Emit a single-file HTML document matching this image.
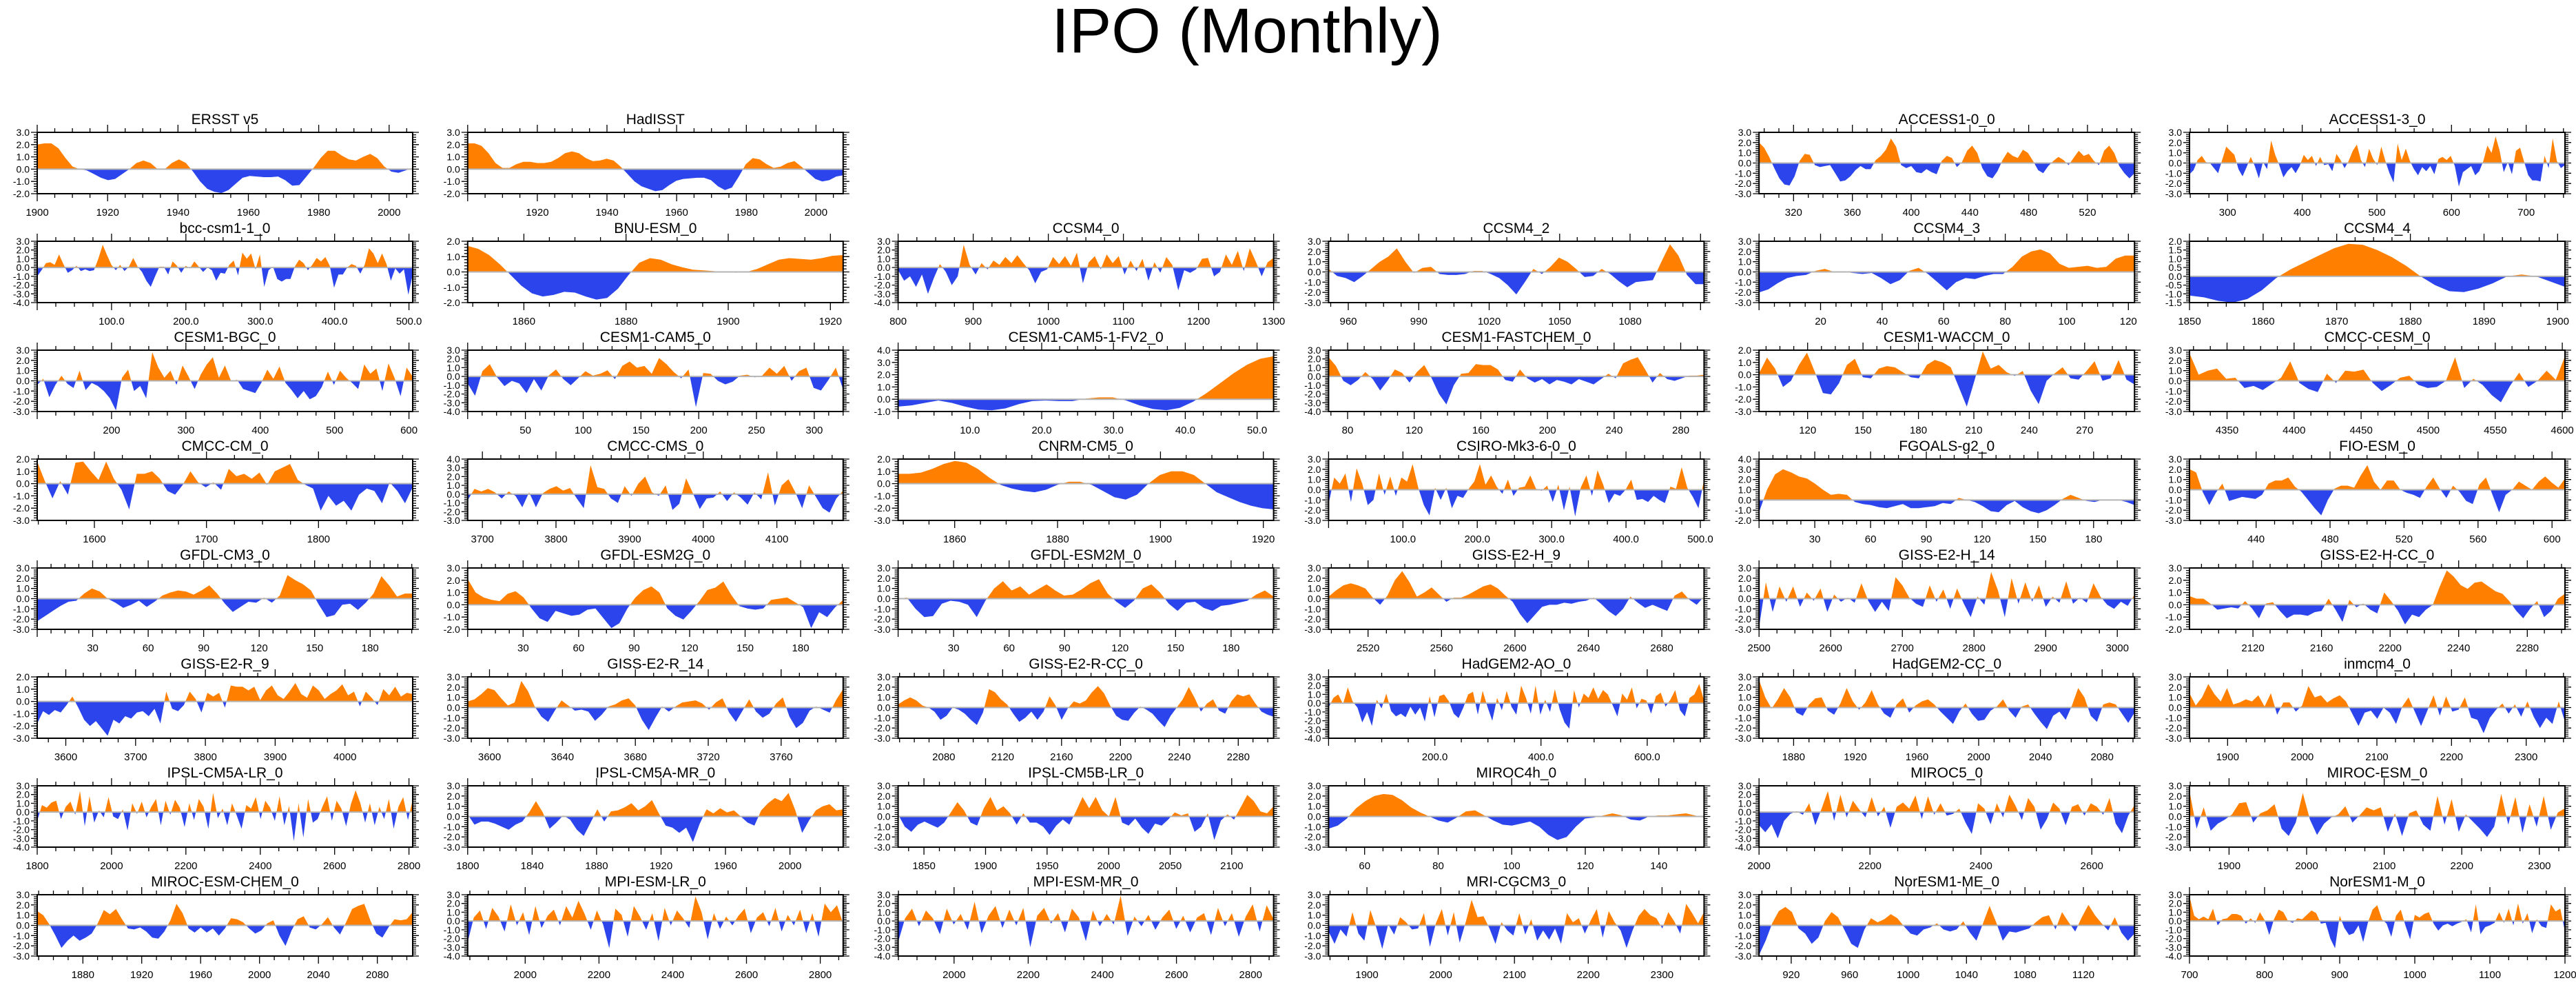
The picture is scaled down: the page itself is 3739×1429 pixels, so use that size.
<!DOCTYPE html>
<html><head><meta charset="utf-8"><title>IPO (Monthly)</title>
<style>
html,body{margin:0;padding:0;background:#fff;}
svg{display:block;font-family:"Liberation Sans",Arial,sans-serif;}
</style></head>
<body>
<svg id="chart" width="3739" height="1429" viewBox="0 0 3739 1429" xmlns="http://www.w3.org/2000/svg">
<rect x="0" y="0" width="3739" height="1429" fill="#fff"/>
<text x="1810" y="76" text-anchor="middle" font-size="92" fill="#000">IPO (Monthly)</text>
</svg>
<script>
const ERSST = [2.0,2.1,2.1,1.7,0.9,0.2,0.0,-0.1,-0.4,-0.7,-0.9,-0.8,-0.4,0.0,0.5,0.7,0.5,0.0,0.0,0.5,0.8,0.5,-0.2,-1.0,-1.6,-1.85,-1.95,-1.7,-1.2,-0.7,-0.55,-0.6,-0.65,-0.65,-0.6,-0.9,-1.35,-1.3,-0.6,0.1,0.9,1.5,1.5,1.1,0.8,0.7,1.0,1.25,0.9,0.2,-0.2,-0.3,-0.1,0.1];
const HADISST = [2.1,2.1,1.9,1.3,0.5,0.1,0.1,0.4,0.6,0.6,0.5,0.5,0.6,0.9,1.3,1.45,1.3,0.9,0.65,0.7,0.85,0.7,0.2,-0.4,-1.0,-1.4,-1.6,-1.8,-1.7,-1.3,-0.95,-0.8,-0.75,-0.7,-0.7,-0.9,-1.4,-1.7,-1.5,-0.6,0.4,0.9,0.8,0.4,0.1,0.2,0.5,0.65,0.2,-0.3,-0.8,-1.0,-0.9,-0.6,-0.5];
const ACCESS10 = [2.0,1.5,0.6,-0.5,-1.5,-2.1,-2.2,-1.3,0.2,0.9,0.8,-0.2,-0.4,-0.3,-0.2,-1.0,-1.8,-1.7,-1.3,-0.7,-0.3,-0.6,-0.6,0.3,0.7,1.3,2.4,1.6,-0.2,-0.5,-0.3,-0.9,-1.0,-0.6,-0.9,-1.1,0.2,0.7,0.5,-0.4,0.1,1.2,1.7,1.0,-0.5,-1.3,-1.5,-0.8,0.3,1.1,0.7,0.5,1.3,1.0,0.2,-0.7,-1.0,-0.3,0.2,0.6,0.3,-0.2,0.5,1.2,0.7,0.9,0.2,-0.2,1.2,1.7,1.0,-0.3,-1.0,-1.5,-1.0];
const ACCESS13 = [-1.1,-0.7,0.3,0.7,0.1,0,-0.5,-1.0,0.3,1.6,1.2,0.8,-0.6,-1.3,-0.4,0.6,-0.3,-1.5,0.1,-0.6,2.2,0.8,-0.2,-1.4,-0.8,-0.4,-1.0,-0.3,0.8,0.3,0.7,-0.3,0.6,-0.2,-0.1,-0.8,0.9,0.3,-0.5,0.2,1.2,1.8,0.3,-0.4,1.4,0.4,-0.2,1.6,0.2,-1.0,-1.9,1.9,0.3,1.4,0.2,-0.6,-1.2,-0.4,-0.8,-0.3,-1.1,0.4,0.6,0.3,0.7,-0.3,-2.3,-0.9,-0.6,-0.3,-1.2,-0.8,0.2,1.7,1.0,2.6,1.2,-0.9,0.1,-1.1,1.2,1.5,0.1,-1.2,-1.7,-1.7,-1.8,0.7,-0.5,2.4,0.2,-0.5,-0.2];
const BCC = [-1.0,-0.3,0.5,0.6,0.3,1.5,0.4,-0.6,-0.3,0.2,-0.4,-0.2,-0.4,-0.3,1.0,2.6,1.4,0.3,-0.3,0.3,-0.4,0.1,1.1,0.1,-0.5,-1.5,-2.2,-1.0,0.1,0.1,-0.8,0.7,0.2,-0.6,0.2,-0.1,0.7,0.1,-0.5,0.0,-0.3,-1.5,-0.6,-0.7,0.3,0.8,-0.9,1.7,1.0,1.6,-0.2,1.5,-2.2,-0.3,0.1,-1.3,-1.6,-1.3,-1.3,0.1,0.9,0.5,-0.3,0.3,1.1,0.7,1.2,0.2,-2.3,-0.8,-0.8,0.0,0.4,0.2,-0.7,0.3,2.2,1.6,0.5,1.6,0.4,-1.5,-0.1,-0.7,-0.2,-3.1,-0.8];
const BNU = [1.7,1.5,1.1,0.5,-0.2,-0.9,-1.4,-1.6,-1.5,-1.3,-1.35,-1.6,-1.8,-1.7,-1.1,-0.2,0.6,0.9,0.8,0.5,0.3,0.15,0.1,0.05,0,-0.05,0.0,0.2,0.5,0.8,0.9,0.85,0.8,0.9,1.05,1.1];
const CCSM40 = [-0.3,-1.5,-1.0,-2.2,-0.8,-3.0,-1.2,0.4,-0.5,-2.0,-1.0,2.6,0.3,-0.8,0.5,-0.2,0.8,0.3,1.2,0.5,1.4,0.5,-0.3,-1.8,-0.5,-0.2,1.2,0.4,1.3,0.2,1.7,-1.8,0.6,1.3,-0.2,1.5,0.5,1.3,-0.8,0.8,-0.4,1.0,-1.5,0.6,-0.6,1.2,0.3,-2.6,-0.3,-0.6,-0.2,1.0,1.1,-1.0,-0.5,1.5,0.3,1.9,-0.4,2.2,0.7,-1.0,0.6,1.1];
const CCSM42 = [0.3,-0.4,-0.6,-1.0,-0.4,0.3,1.0,1.5,2.3,1.0,-0.1,0.4,0.5,-0.2,-0.3,-0.3,-0.2,0.1,0.1,-0.2,-0.6,-1.3,-2.2,-1.0,0.3,-0.2,0.5,1.4,1.0,0.3,-0.5,-0.4,0.3,-0.2,-0.9,-1.5,-1.0,-0.9,-0.8,1.0,2.7,1.6,-0.3,-1.2,-1.2];
const CCSM43 = [-2.0,-1.7,-1.1,-0.6,-0.4,-0.3,0.1,0.3,0.0,0.0,-0.1,-0.2,-0.1,-0.6,-1.2,-0.8,0.1,0.4,-0.2,-1.0,-1.8,-1.0,-0.6,-0.7,-0.4,-0.2,-0.2,0.5,1.5,2.0,2.2,1.8,0.8,0.4,0.5,0.6,0.4,0.5,1.3,1.6,1.6];
const CCSM44 = [-1.1,-1.2,-1.4,-1.5,-1.3,-0.8,-0.1,0.4,0.8,1.2,1.6,1.85,1.8,1.5,1.1,0.6,0.0,-0.5,-0.85,-0.9,-0.7,-0.4,0.0,0.1,0.0,-0.3,-0.6];
const CESMBGC = [-0.4,0.2,-1.6,-0.4,0.5,-0.3,-0.7,1.0,-0.9,-0.2,-0.5,-1.0,-1.7,-2.9,0.3,1.1,-1.0,-0.5,-1.7,2.8,1.3,0.3,1.0,-0.4,1.5,0.4,-0.8,0.6,1.6,2.3,0.3,1.5,0.0,0.1,-0.8,-1.0,-1.2,-0.2,1.1,0.2,1.4,-0.2,-0.9,-1.7,-1.0,-1.8,-1.5,-0.6,0.9,-0.4,1.0,0.3,-0.2,-0.8,1.6,0.7,1.2,-1.0,1.7,0.3,-1.5,1.3,0.4];
const CESMCAM5 = [-0.8,-2.2,0.6,1.4,-0.1,-1.1,-0.5,-0.8,-1.9,-0.3,-1.6,0.1,0.8,-0.3,-1.0,-0.2,0.6,0.1,0.3,0.7,-0.3,1.2,1.7,1.0,1.2,0.3,2.1,1.4,0.5,-0.2,0.8,-3.5,0.4,0.3,-0.5,-0.9,-0.6,0.1,0.2,-0.1,0.1,1.0,0.3,1.2,-0.5,0.6,1.0,-1.3,-1.6,-0.4,1.0,-1.5];
const CESMFV2 = [-0.6,-0.5,-0.3,-0.1,-0.3,-0.6,-0.85,-0.9,-0.75,-0.4,-0.15,-0.1,-0.15,-0.15,0.05,0.15,0.15,-0.1,-0.5,-0.8,-0.9,-0.7,-0.2,0.5,1.3,2.1,2.8,3.3,3.5];
const CESMFAST = [2.2,1.2,-0.5,-1.0,-0.4,0.5,-0.3,-1.6,-0.5,0.8,0.4,-0.7,0.5,1.3,-0.2,-2.0,-3.2,-1.0,0.3,0.4,1.4,1.3,1.3,0.8,-0.4,-0.6,0.8,-0.2,-0.7,-0.3,-0.9,-0.4,-0.6,-0.9,-0.3,-0.6,-0.9,-0.3,0.3,-0.2,1.5,1.9,2.2,0.8,-0.7,0.4,-0.3,-0.5,-0.2,0.1,0.1,0.2];
const CESMWACCM = [0.1,1.4,0.5,-1.0,-0.5,0.8,1.8,0.2,-1.5,-1.6,-0.7,0.8,1.3,-0.2,-0.3,0.5,0.7,0.6,0.2,-0.2,-0.3,0.8,1.2,1.0,0.6,-1.0,-2.6,-0.4,1.9,0.5,0.8,0.2,-0.1,0.3,-1.3,-2.4,-0.5,0.1,0.6,-0.3,-0.4,0.3,1.1,-0.5,-0.3,1.2,-0.4,-0.8];
const CMCCCESM = [2.7,0.6,1.0,1.2,0.2,0.3,-0.7,-0.5,-0.9,-0.3,0.3,1.9,-0.2,-0.8,-1.1,0.7,-0.2,1.0,0.9,1.1,-0.2,-1.0,-0.4,0.3,0.5,-0.4,-0.7,-0.6,0.0,2.3,-0.7,0.2,-0.4,-1.4,-2.1,-0.5,0.8,-0.6,0.0,1.0,0.1,2.4];
const CMCCCM = [1.8,0.2,-1.2,0.2,-0.9,1.7,1.8,1.0,0.3,1.8,0.4,-0.5,-2.1,0.8,0.8,1.0,0.4,-0.6,-0.9,-0.1,1.0,0.1,-0.3,0.1,-0.5,1.2,0.6,0.8,0.4,0.9,-0.1,1.0,1.3,1.6,0.3,-0.1,-0.4,-2.2,-1.0,-1.8,-1.4,-2.2,-0.9,-0.4,-0.6,-1.6,0.1,-0.6,-1.6,-0.3];
const CMCCCMS = [-0.7,0.6,0.3,0.6,0.2,-0.5,0.3,-0.2,-1.5,0.2,-1.5,0.1,0.6,0.9,0.4,0.7,-0.5,-1.6,3.3,0.8,0.6,-0.5,-1.0,0.9,-0.2,1.2,2.0,0.2,-0.2,1.0,-1.8,-1.1,1.8,0.1,-1.7,-0.5,-0.4,0.3,-0.8,0.2,-0.4,-1.2,0.2,-0.6,2.5,-1.3,1.0,1.7,0.2,-1.6,1.0,-0.3,-1.6,-2.1,-0.5,0.4];
const CNRM = [0.8,0.8,0.9,1.2,1.6,1.85,1.7,1.2,0.5,-0.1,-0.4,-0.6,-0.7,-0.5,-0.1,0.15,0.15,-0.1,-0.6,-1.1,-1.3,-0.9,0.0,0.7,1.0,1.0,0.7,0.0,-0.7,-1.1,-1.5,-1.8,-2.0,-2.1];
const CSIRO = [-1.4,1.2,0.6,1.6,-1.2,2.1,0.6,-1.5,-1.0,1.6,-0.5,1.3,-0.6,1.2,0.8,2.5,0.2,-1.5,-2.5,0.2,-1.0,0.2,-1.8,-0.6,-0.8,0.1,0.8,2.5,0.5,1.4,0.3,-0.4,1.0,-0.6,0.2,0.3,1.4,0.1,-0.1,0.4,-1.2,0.5,-2.0,0.3,-2.6,0.2,1.4,-0.6,1.9,0.5,-1.3,-0.4,-0.6,0.0,1.0,-1.0,-0.9,-1.2,-0.6,-1.0,-1.3,0.3,0.1,2.2,0.2,-0.7,-1.8,1.0];
const FGOALS = [-1.2,1.0,2.5,3.0,2.7,2.3,2.1,1.6,1.0,0.5,0.6,0.5,-0.2,-0.4,-0.5,-0.7,-0.8,-0.6,-0.4,-0.8,-0.8,-0.7,-0.6,-0.3,-0.4,0.2,0.0,-0.2,-0.6,-1.1,-1.2,-0.5,-0.1,-0.7,-1.1,-1.3,-1.0,-0.5,0.1,0.5,0.2,-0.1,-0.2,0.0,-0.05,0.0,-0.2,-0.5];
const FIO = [2.0,1.7,-0.2,-1.5,-0.3,0.6,-1.1,-0.9,-0.7,-0.8,-0.9,-0.5,0.6,0.9,0.9,1.2,0.3,-0.2,-1.0,-1.8,-2.5,-1.0,0.1,0.4,0.4,0.2,1.4,2.4,0.8,0.0,0.9,0.9,0.0,-0.3,-0.5,-0.8,0.3,1.2,0.1,-0.8,0.4,-0.2,-1.1,-1.4,0.5,1.2,-0.5,-2.2,-0.5,0.0,0.8,0.4,0.0,0.8,1.3,0.7,0.2,1.1];
const GFDLCM3 = [-2.2,-1.7,-1.2,-0.7,-0.3,-0.2,0.5,1.0,0.7,0.0,-0.4,-0.9,-0.6,-0.2,-0.8,-0.3,0.3,0.6,0.8,0.7,0.4,0.8,1.3,0.5,-0.5,-1.3,-0.8,-0.3,-0.4,0.1,-0.4,0.3,2.3,1.8,1.4,0.8,-0.6,-1.8,-1.6,-0.6,-0.5,-1.1,-0.4,0.5,2.2,1.3,0.2,0.5,0.5];
const GFDLESM2G = [2.1,1.0,0.6,0.4,0.3,0.9,1.1,0.6,-0.3,-1.1,-1.4,-0.5,-0.7,-0.9,-0.8,-0.4,-0.3,-1.1,-1.9,-1.5,-0.3,0.6,1.2,1.5,1.0,-0.3,-0.9,-1.2,-0.5,0.3,1.2,1.4,1.9,0.8,-0.1,-0.3,-0.4,-0.3,0.4,0.5,0.6,0.2,-0.2,-1.9,-0.6,-1.0,-0.2,0.4];
const GFDLESM2M = [0.0,0.1,-1.0,-1.8,-1.7,-0.5,-0.2,-0.3,-0.6,-1.8,-0.2,1.0,1.7,0.8,1.2,0.4,0.9,1.4,0.8,0.3,0.4,0.9,1.5,1.9,0.5,-0.3,-0.9,-0.2,1.0,1.4,0.6,-0.5,-1.2,-0.4,-0.3,-0.9,-1.2,-0.7,-0.6,-0.4,-0.2,0.4,0.8,0.2];
const GISSEH9 = [0.2,0.8,1.3,1.5,1.3,1.0,0.1,-0.6,0.3,1.8,2.7,1.6,0.2,0.6,1.1,0.4,-0.3,0.1,0.1,0.4,0.8,1.2,1.4,1.0,0.3,-0.3,-1.5,-2.4,-1.6,-0.8,-0.6,-0.6,-0.4,-0.5,-0.3,-0.2,0.1,-0.5,-1.2,-1.7,-1.0,0.2,-0.4,-0.9,-0.6,-0.9,-1.2,0.3,0.7,-0.1,-0.6,0.2];
const GISSEH14 = [-2.8,1.6,-1.3,1.2,-0.3,1.2,-0.8,0.6,-0.2,1.0,-1.3,0.4,-0.3,0.1,-0.4,1.5,-0.2,-1.3,-0.3,-1.2,2.1,1.3,0.1,-0.5,-0.8,1.3,-0.3,0.9,-1.0,1.0,-0.5,-1.8,0.2,-0.6,2.6,0.8,-1.8,2.0,-0.5,1.6,-0.3,1.3,-0.8,0.2,-0.4,1.7,-0.5,0.1,-0.4,1.5,0.2,-0.6,-1.0,-0.3,-0.7,0.4];
const GISSEHCC = [0.7,0.5,0.5,0.1,-0.4,-0.3,-0.2,-0.3,0.3,-0.3,-1.1,0.1,0.2,-0.5,-1.1,-0.8,-0.8,-0.9,-0.6,-0.5,0.5,-0.4,-1.4,0.4,-0.2,0.1,-0.4,-0.7,1.0,0.3,-0.5,-1.6,-0.8,-1.0,-0.4,0.0,1.5,2.8,2.3,1.6,1.3,1.8,1.9,1.5,1.1,0.9,0.3,-0.5,-1.1,-0.3,0.3,-1.0,-0.5,0.5,0.9];
const GISSER9 = [-1.8,-0.8,-1.1,-0.7,-0.9,-0.3,0.4,-0.5,-1.5,-2.0,-1.6,-2.2,-2.8,-1.5,-1.8,-1.2,-1.4,-0.9,-0.8,-1.2,-0.6,-1.8,0.8,-0.6,-0.8,-0.3,0.8,0.2,-0.9,0.7,0.4,0.7,-0.5,1.3,1.2,1.2,0.9,1.2,0.1,0.9,1.3,0.5,0.2,0.8,1.5,0.6,0.3,1.3,0.9,0.2,0.6,0.9,1.4,0.5,0.8,-0.4,0.8,0.3,-0.3,1.0,0.5,1.2,0.4,0.7,0.6];
const GISSER14 = [0.6,0.8,1.3,1.9,1.7,0.9,0.2,0.5,2.6,1.6,0.1,-0.9,-1.4,-0.3,0.7,0.2,-0.3,-0.2,-0.4,-1.3,-0.7,0.1,0.3,0.7,0.9,0.2,-1.2,-2.2,-1.0,0.1,-0.4,0.1,0.5,0.6,0.7,0.4,-0.2,0.5,0.9,-0.5,-1.4,-0.3,0.8,-0.4,-1.0,-0.6,0.4,1.0,-0.9,-2.0,-1.5,-0.3,0.1,-0.2,-0.5,0.8,1.8];
const GISSERCC = [0.3,0.7,1.0,0.7,0.2,0.0,-0.4,-1.2,-0.8,0.0,-0.2,-0.6,-1.2,-1.7,-0.5,1.8,1.5,0.8,0.3,-0.6,-1.4,-1.0,-0.4,-1.2,-0.4,1.1,0.2,-1.2,-0.1,0.6,0.4,0.7,1.5,2.1,1.4,0.2,-0.8,-1.2,-1.3,-0.5,0.1,-0.2,-0.6,-1.3,-1.9,-0.8,0.0,0.8,2.0,0.9,-0.4,0.4,0.8,-0.3,-0.6,0.6,1.3,1.1,1.3,0.4,-0.4,-0.7,-0.9];
const HADGEMAO = [-0.5,0.6,1.0,-0.1,1.8,0.2,-0.5,-2.2,-1.0,-2.6,0.4,-0.6,1.1,-0.9,-1.5,-1.2,-1.6,-0.4,-1.3,-0.5,-2.1,0.8,-1.6,0.8,1.0,0.2,-1.2,-1.7,-0.5,1.0,1.3,-1.3,1.4,-0.4,-2.0,0.6,-0.8,1.4,-0.4,-1.3,2.0,0.6,-1.2,2.0,-1.3,0.4,-1.0,1.6,-0.7,-2.2,-2.9,1.5,-0.5,1.1,0.6,1.8,0.5,1.5,1.0,-0.2,-1.5,1.1,0.4,1.8,-0.6,0.5,0.3,-1.2,0.8,1.2,-0.4,0.4,1.5,-0.8,-1.5,0.6,1.0,2.2,0.3];
const HADGEMCC = [2.7,1.0,-0.1,0.8,1.9,1.0,-0.5,-0.8,0.3,0.9,1.0,-0.3,-0.7,0.4,1.9,0.6,-0.2,0.5,1.7,0.3,-0.6,-1.0,0.3,0.9,-0.5,0.2,0.6,0.8,0.3,-0.4,-1.0,-1.6,-0.4,0.4,-0.6,-1.3,-1.2,-0.3,0.1,0.8,-0.3,-1.0,0.1,0.3,-0.6,-1.4,-2.1,-0.8,-0.4,-1.2,0.2,1.9,1.0,-0.8,-1.4,0.3,0.5,0.3,-0.6,-1.5,-0.5];
const INMCM4 = [1.4,0.2,1.0,2.3,1.3,0.6,1.9,0.3,0.5,0.8,0.6,1.2,0.1,1.4,-0.7,0.5,0.5,-0.4,0.2,2.1,1.0,1.2,0.5,0.9,1.2,0.6,-0.6,-1.8,-0.5,-0.3,-1.1,0.0,-0.5,-1.6,0.1,1.0,-0.4,-1.8,-0.3,1.2,-0.8,1.1,-0.4,-0.2,1.0,-1.0,-1.2,-2.5,-1.0,-0.2,0.4,-0.6,0.3,-0.9,0.6,-0.9,-2.0,-1.0,-1.6,0.6,-1.4];
const IPSLALR = [-1.0,0.8,0.5,1.1,1.3,-0.8,0.6,1.2,-0.3,2.4,-1.6,1.8,-1.2,0.2,-0.6,1.7,-0.5,-0.8,0.3,-2.1,1.0,-0.2,1.2,-0.6,0.6,1.5,-1.5,1.3,-0.3,1.4,0.5,-1.7,1.0,-0.9,1.5,0.6,-1.9,2.2,-0.7,0.4,-1.5,1.0,-0.4,-1.9,0.8,0.4,1.7,-0.8,1.3,0.5,-1.0,1.8,-1.5,0.7,-3.3,1.0,-2.9,1.5,-1.2,-0.8,0.6,1.8,-1.0,1.3,0.4,-1.6,0.9,2.5,1.0,-1.2,1.0,-1.5,0.6,-0.8,1.5,-1.9,0.6,1.7,-0.9,1.4];
const IPSLAMR = [0.2,-0.8,-0.5,-0.5,-0.7,-1.0,-1.3,-0.8,-0.5,0.4,1.5,0.4,-1.2,-0.6,0.1,-0.3,-1.3,-1.9,-0.6,0.7,-0.5,0.5,0.6,0.9,1.3,0.6,1.0,1.6,0.3,-0.9,-1.1,-1.6,-1.1,-2.5,-0.7,0.7,0.3,0.8,0.4,0.6,0.0,-0.6,-0.9,0.6,1.3,1.8,1.5,2.3,0.6,-1.6,-0.4,0.6,1.0,1.2,0.6,0.7];
const IPSLBLR = [0.2,-1.0,-1.5,-0.8,-0.5,-0.8,-1.1,-0.6,0.4,1.4,0.6,-0.6,-0.9,0.8,1.9,0.6,1.0,0.3,-0.8,0.3,-0.6,-0.6,-1.0,-1.8,-0.9,-0.3,-0.8,0.5,1.9,0.8,1.9,0.6,0.0,1.9,-0.6,-0.9,-0.2,-1.1,-1.7,-0.7,-0.9,-0.3,0.4,0.1,0.3,-1.5,-1.0,0.3,-2.3,-0.4,0.2,-0.3,0.9,2.1,1.5,0.5,0.3,1.0];
const MIROC4H = [-1.2,-0.9,-0.2,0.8,1.5,2.0,2.2,2.1,1.6,0.9,0.4,0.0,-0.4,-0.6,-0.1,0.5,0.6,0.1,-0.4,-0.8,-0.9,-0.7,-0.5,-1.0,-1.8,-2.3,-2.0,-1.0,-0.2,-0.1,0.1,0.3,0.1,-0.3,-0.4,0.0,0.1,0.1,0.2,0.3,0.1,-0.1];
const MIROC5 = [-1.5,-2.3,-1.4,-3.0,-1.0,-0.2,0.1,-0.3,1.0,-1.5,0.4,2.4,-1.0,2.0,-0.6,1.3,0.3,-0.6,1.7,-0.5,0.6,-1.8,0.6,1.1,0.4,1.9,-0.8,1.8,-0.3,1.0,-0.4,-0.2,0.4,-1.2,-2.5,1.0,0.4,-1.4,1.0,-0.6,2.0,0.7,-0.9,1.6,0.6,-2.0,-0.8,1.1,0.4,-1.5,0.6,0.9,-0.4,1.0,0.6,-0.3,1.6,-1.3,-2.4,-0.4,0.8];
const MIROCESM = [2.5,-1.2,0.9,-1.4,-0.7,-0.3,0.2,1.3,1.4,-0.6,0.3,0.6,1.2,-1.2,-1.9,-0.6,2.3,-0.3,-1.8,-0.7,-0.1,0.2,1.0,-0.6,0.1,0.9,0.6,0.9,-1.5,0.3,-1.9,0.3,0.6,-0.8,-1.4,2.0,-0.8,1.7,-1.5,0.2,-0.5,-1.2,-2.0,-1.0,2.2,-0.8,1.9,-1.6,1.2,-1.0,2.0,-1.3,0.4,0.8];
const MIROCCHEM = [1.4,1.0,0.1,-1.0,-2.2,-1.5,-1.0,-1.5,-1.2,-0.8,0.2,1.5,1.1,1.6,0.6,-0.3,-0.4,-0.2,-0.6,-1.2,-1.3,-0.6,0.5,2.1,1.2,-0.3,-0.7,-0.2,-0.7,-0.3,-1.0,-0.3,0.7,0.6,0.3,-0.3,-0.8,-0.5,0.2,0.5,-1.0,-2.0,-0.5,0.6,0.9,-0.2,-0.4,0.1,0.8,-0.2,-0.9,0.3,1.6,1.9,2.1,0.5,-0.8,-1.2,-0.2,0.6,0.5,0.6,1.3];
const MPILR = [-2.4,0.4,1.2,-0.9,1.5,0.5,-1.2,1.9,-0.5,1.0,-1.6,1.7,-0.8,0.6,1.3,-0.5,1.7,0.4,2.3,0.8,-1.0,1.2,-0.4,-3.1,1.4,0.7,-1.8,1.7,0.5,-1.0,0.9,-2.3,1.5,-0.5,1.2,0.3,-0.8,2.8,1.0,-2.1,0.9,-0.9,0.5,-0.5,0.6,1.4,-1.4,0.4,1.0,-0.6,1.5,-1.2,0.7,-0.5,1.3,-1.4,0.9,-1.8,2.0,1.0,1.8,-0.3];
const MPIMR = [-2.4,0.3,1.4,-0.6,1.2,0.3,-1.5,1.4,-0.4,0.8,-1.0,2.2,-1.4,0.6,1.7,-0.8,1.3,-0.5,1.5,-3.0,0.6,1.5,-0.3,0.9,-1.3,1.4,0.4,-2.3,1.2,-0.6,0.8,-0.4,2.9,-1.7,0.5,-0.6,0.7,-1.0,0.4,1.3,-0.9,0.6,-1.3,0.4,0.9,-1.6,1.5,-0.6,0.9,-1.8,0.5,1.9,-1.2,1.8,0.2];
const MRI = [-0.6,-1.8,-0.4,-1.1,1.3,-0.8,-1.5,1.5,-0.2,-2.3,0.1,-0.9,0.8,0.3,-0.4,-0.3,1.2,-2.1,0.2,1.6,-1.0,1.3,-1.7,0.3,2.5,0.8,0.9,-0.3,-1.8,0.3,-0.5,-1.0,1.2,-0.9,0.6,-1.5,-0.5,-1.4,-0.3,-1.8,1.2,0.3,0.7,-0.8,0.5,1.6,-1.2,1.4,0.3,-0.5,-2.2,-0.5,0.9,1.6,1.0,0.7,-0.3,1.3,0.4,-0.8,2.1,1.2,0.2,1.3];
const NORME = [-2.9,-1.5,0.2,1.4,1.8,1.3,-0.3,-0.8,-1.8,-1.2,0.4,1.3,0.8,-0.5,-1.8,-2.2,-0.4,0.7,0.3,0.6,1.1,0.7,-0.1,-0.8,-1.0,-0.4,-0.2,0.2,-0.4,-0.6,-0.4,0.4,-0.7,-1.5,0.2,1.9,0.3,-1.5,-0.6,-0.7,-0.5,-0.3,0.3,0.8,1.0,-0.4,1.3,0.3,-0.6,0.8,2.0,1.0,0.2,-0.5,0.8,-0.7,-1.5,-0.8];
const NORM = [2.8,0.6,0.2,0.5,0.2,1.4,-0.5,0.2,0.3,0.8,0.8,0.6,-0.3,0.3,-0.2,1.0,0.1,-1.6,0.2,1.3,1.0,0.0,-0.2,0.3,0.2,0.7,1.2,0.9,-0.3,-0.2,-2.0,-3.1,0.6,-0.8,-1.6,-1.4,-0.5,-2.4,-0.2,1.3,1.8,0.2,-0.3,-1.8,0.6,1.3,-0.5,-2.1,0.7,0.4,0.8,1.0,-0.3,-1.1,-0.5,-0.3,-0.6,-0.3,-0.1,0.2,-1.3,1.9,-1.5,-0.7,-0.5,-0.2,1.0,-0.2,1.4,-0.5,2.0,-0.3,0.9,-1.4,0.2,-0.6,-0.8,1.9,1.1,1.4,-1.2];

const PANELS = [
 ["ERSST v5",0,0,1900,2006.7,-2,3,[1900,1920,1940,1960,1980,2000],0,ERSST],
 ["HadISST",1,0,1900,2007.8,-2,3,[1920,1940,1960,1980,2000],0,HADISST],
 ["ACCESS1-0_0",4,0,296.5,552,-3,3,[320,360,400,440,480,520],0,ACCESS10],
 ["ACCESS1-3_0",5,0,249,752,-3,3,[300,400,500,600,700],0,ACCESS13],
 ["bcc-csm1-1_0",0,1,0,505,-4,3,[100,200,300,400,500],1,BCC],
 ["BNU-ESM_0",1,1,1849,1922.5,-2,2,[1860,1880,1900,1920],0,BNU],
 ["CCSM4_0",2,1,800,1300,-4,3,[800,900,1000,1100,1200,1300],0,CCSM40],
 ["CCSM4_2",3,1,951.6,1111.5,-3,3,[960,990,1020,1050,1080],0,CCSM42],
 ["CCSM4_3",4,1,0,122,-3,3,[20,40,60,80,100,120],0,CCSM43],
 ["CCSM4_4",5,1,1850,1901,-1.5,2,[1850,1860,1870,1880,1890,1900],0,CCSM44],
 ["CESM1-BGC_0",0,2,100,605,-3,3,[200,300,400,500,600],0,CESMBGC],
 ["CESM1-CAM5_0",1,2,0,325,-4,3,[50,100,150,200,250,300],0,CESMCAM5],
 ["CESM1-CAM5-1-FV2_0",2,2,0,52.3,-1,4,[10,20,30,40,50],1,CESMFV2],
 ["CESM1-FASTCHEM_0",3,2,68.6,294,-4,3,[80,120,160,200,240,280],0,CESMFAST],
 ["CESM1-WACCM_0",4,2,93.7,297,-3,2,[120,150,180,210,240,270],0,CESMWACCM],
 ["CMCC-CESM_0",5,2,4322,4602,-3,3,[4350,4400,4450,4500,4550,4600],0,CMCCCESM],
 ["CMCC-CM_0",0,3,1549,1884,-3,2,[1600,1700,1800],0,CMCCCM],
 ["CMCC-CMS_0",1,3,3680,4190,-3,4,[3700,3800,3900,4000,4100],0,CMCCCMS],
 ["CNRM-CM5_0",2,3,1849,1922,-3,2,[1860,1880,1900,1920],0,CNRM],
 ["CSIRO-Mk3-6-0_0",3,3,0,505,-3,3,[100,200,300,400,500],1,CSIRO],
 ["FGOALS-g2_0",4,3,0,202,-2,4,[30,60,90,120,150,180],0,FGOALS],
 ["FIO-ESM_0",5,3,404,607,-3,3,[440,480,520,560,600],0,FIO],
 ["GFDL-CM3_0",0,4,0,203,-3,3,[30,60,90,120,150,180],0,GFDLCM3],
 ["GFDL-ESM2G_0",1,4,0,203,-2,3,[30,60,90,120,150,180],0,GFDLESM2G],
 ["GFDL-ESM2M_0",2,4,0,203,-3,3,[30,60,90,120,150,180],0,GFDLESM2M],
 ["GISS-E2-H_9",3,4,2498.5,2703,-3,3,[2520,2560,2600,2640,2680],0,GISSEH9],
 ["GISS-E2-H_14",4,4,2500,3024,-3,3,[2500,2600,2700,2800,2900,3000],0,GISSEH14],
 ["GISS-E2-H-CC_0",5,4,2083,2302,-2,3,[2120,2160,2200,2240,2280],0,GISSEHCC],
 ["GISS-E2-R_9",0,5,3559,4097,-3,2,[3600,3700,3800,3900,4000],0,GISSER9],
 ["GISS-E2-R_14",1,5,3588,3794,-3,3,[3600,3640,3680,3720,3760],0,GISSER14],
 ["GISS-E2-R-CC_0",2,5,2049,2304,-3,3,[2080,2120,2160,2200,2240,2280],0,GISSERCC],
 ["HadGEM2-AO_0",3,5,0,707,-4,3,[200,400,600],1,HADGEMAO],
 ["HadGEM2-CC_0",4,5,1857.6,2101,-3,3,[1880,1920,1960,2000,2040,2080],0,HADGEMCC],
 ["inmcm4_0",5,5,1849,2352,-3,3,[1900,2000,2100,2200,2300],0,INMCM4],
 ["IPSL-CM5A-LR_0",0,6,1800,2810,-4,3,[1800,2000,2200,2400,2600,2800],0,IPSLALR],
 ["IPSL-CM5A-MR_0",1,6,1800,2033,-3,3,[1800,1840,1880,1920,1960,2000],0,IPSLAMR],
 ["IPSL-CM5B-LR_0",2,6,1829,2134,-3,3,[1850,1900,1950,2000,2050,2100],0,IPSLBLR],
 ["MIROC4h_0",3,6,50.2,152.3,-3,3,[60,80,100,120,140],0,MIROC4H],
 ["MIROC5_0",4,6,2000,2677,-4,3,[2000,2200,2400,2600],0,MIROC5],
 ["MIROC-ESM_0",5,6,1849,2333,-3,3,[1900,2000,2100,2200,2300],0,MIROCESM],
 ["MIROC-ESM-CHEM_0",0,7,1849,2104,-3,3,[1880,1920,1960,2000,2040,2080],0,MIROCCHEM],
 ["MPI-ESM-LR_0",1,7,1844,2862,-4,3,[2000,2200,2400,2600,2800],0,MPILR],
 ["MPI-ESM-MR_0",2,7,1849,2862,-4,3,[2000,2200,2400,2600,2800],0,MPIMR],
 ["MRI-CGCM3_0",3,7,1848,2357,-3,3,[1900,2000,2100,2200,2300],0,MRI],
 ["NorESM1-ME_0",4,7,898,1155,-3,3,[920,960,1000,1040,1080,1120],0,NORME],
 ["NorESM1-M_0",5,7,700,1200,-4,3,[700,800,900,1000,1100,1200],0,NORM]
];

const NS = "http://www.w3.org/2000/svg";
const svg = document.getElementById("chart");
const PW = 545, PH = 89;
function mk(tag, attrs, parent) {
  const e = document.createElementNS(NS, tag);
  for (const k in attrs) e.setAttribute(k, attrs[k]);
  parent.appendChild(e);
  return e;
}
PANELS.forEach(function (p, idx) {
  const [title, col, row, x0, x1, ymin, ymax, xlabels, dec, vals] = p;
  const L = 54 + col * 624.8, T = 192 + row * 158;
  const sx = v => L + (v - x0) / (x1 - x0) * PW;
  const sy = v => T + (ymax - v) / (ymax - ymin) * PH;
  const slug = title.toLowerCase().replace(/[^a-z0-9]+/g, "-");
  const g = mk("g", {}, svg);
  
  

  const t = mk("text", {x: L + PW / 2, y: T - 12, "text-anchor": "middle", "font-size": 21, fill: "#000"}, g);
  
  
  t.textContent = title;

  const y0 = sy(0);
  const cpA = mk("clipPath", {id: "pa" + idx}, g);
  mk("rect", {x: L, y: T, width: PW, height: y0 - T}, cpA);
  const cpB = mk("clipPath", {id: "pb" + idx}, g);
  mk("rect", {x: L, y: y0, width: PW, height: T + PH - y0}, cpB);

  const n = vals.length;
  let d = "M" + sx(x0).toFixed(1) + "," + y0.toFixed(1);
  for (let i = 0; i < n; i++) {
    const xv = x0 + i * (x1 - x0) / (n - 1);
    d += " L" + sx(xv).toFixed(1) + "," + sy(vals[i]).toFixed(1);
  }
  d += " L" + sx(x1).toFixed(1) + "," + y0.toFixed(1) + " Z";
  const pos = mk("path", {d: d, fill: "#ff8000", "clip-path": "url(#pa" + idx + ")"}, g);
  
  
  const neg = mk("path", {d: d, fill: "#2b44ec", "clip-path": "url(#pb" + idx + ")"}, g);
  
  

  const zl = mk("line", {x1: L, x2: L + PW, y1: y0, y2: y0, stroke: "#b4b4b4", "stroke-width": 2}, g);
  
  

  let tk = "";
  const step = xlabels.length > 1 ? xlabels[1] - xlabels[0] : 100;
  const minor = step / 4;
  let start = xlabels[0] - Math.floor((xlabels[0] - x0) / minor) * minor;
  for (let v = start; v <= x1 + 1e-6; v += minor) {
    const X = sx(v).toFixed(1);
    const isMaj = Math.abs(((v - xlabels[0]) / step) - Math.round((v - xlabels[0]) / step)) < 1e-6;
    const len = isMaj ? 11 : 6;
    tk += "M" + X + "," + (T + PH) + "v" + len + "M" + X + "," + T + "v-" + len;
  }
  const ystep = (ymax - ymin) <= 3.5 ? 0.5 : 1;
  const ymin5 = ystep / 5;
  for (let k = 0; k <= Math.round((ymax - ymin) / ymin5); k++) {
    const v = ymin + k * ymin5;
    const Y = sy(v).toFixed(1);
    const len = (k % 5 === 0) ? 9 : 5;
    tk += "M" + L + "," + Y + "h-" + len + "M" + (L + PW) + "," + Y + "h" + len;
  }
  const ticks = mk("path", {d: tk, stroke: "#000", "stroke-width": 1.3, fill: "none"}, g);
  
  

  const fr = mk("rect", {x: L, y: T, width: PW, height: PH, fill: "none", stroke: "#000", "stroke-width": 2}, g);
  
  

  xlabels.forEach(function (v) {
    const xt = mk("text", {x: sx(v), y: T + PH + 32, "text-anchor": "middle", "font-size": 15, fill: "#000"}, g);
    
    
    xt.textContent = v.toFixed(dec);
  });
  for (let v = ymin; v <= ymax + 1e-6; v += ystep) {
    const yt = mk("text", {x: L - 11, y: sy(v) + 5, "text-anchor": "end", "font-size": 14, fill: "#000"}, g);
    
    
    yt.textContent = (Math.abs(v) < 1e-9 ? 0 : v).toFixed(1);
  }
});
</script>
</body></html>
